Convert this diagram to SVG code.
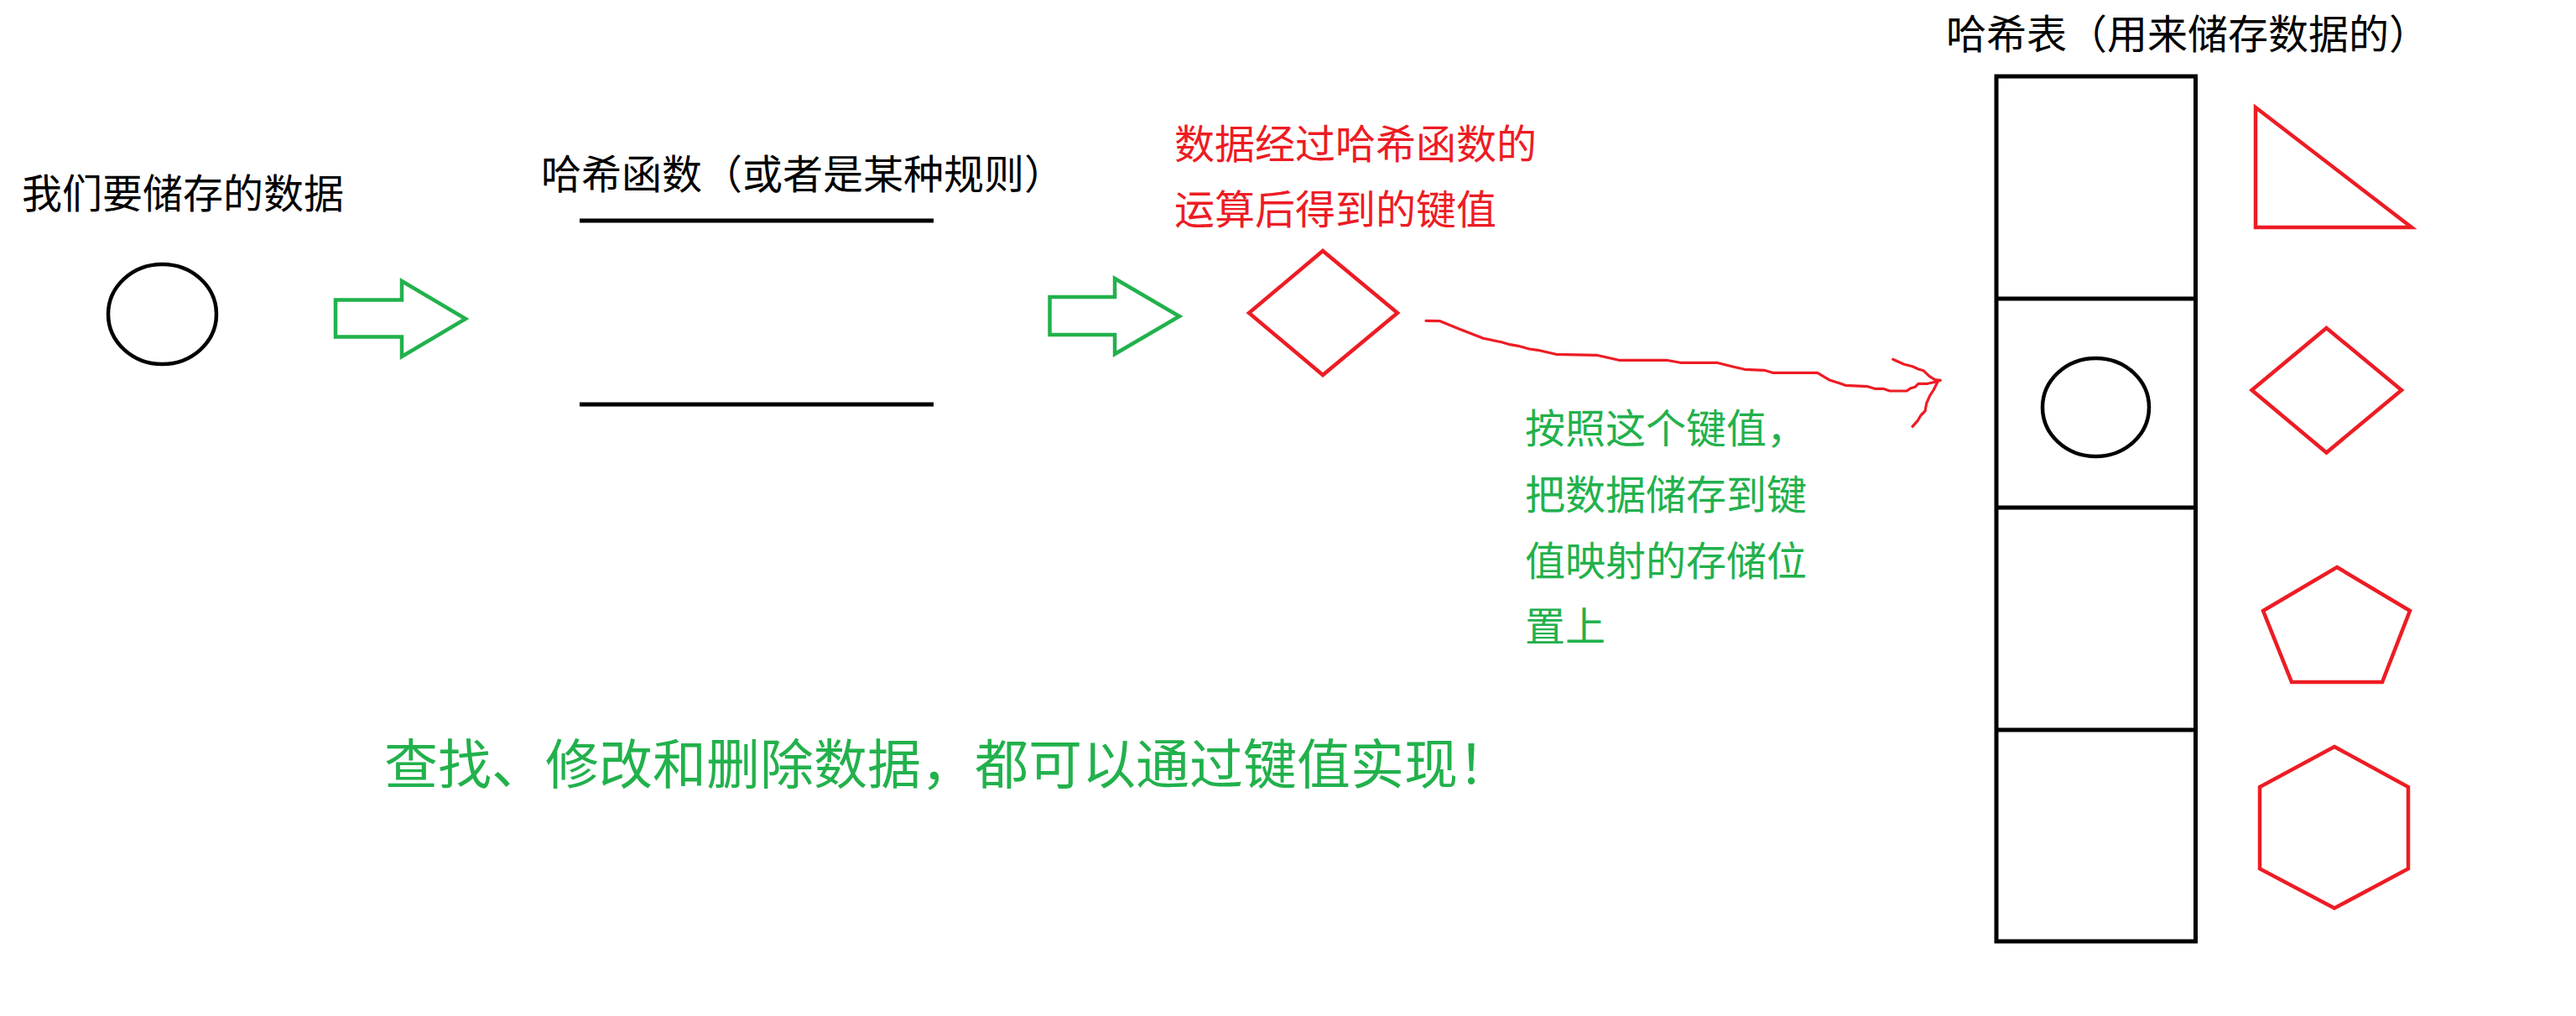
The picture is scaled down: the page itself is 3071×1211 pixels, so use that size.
<svg xmlns="http://www.w3.org/2000/svg" width="3071" height="1211" viewBox="0 0 3071 1211">
<style>
text{font-family:"Noto Sans CJK SC","Noto Sans CJK JP",sans-serif;font-size:48px}
.k{fill:#000}
.r{fill:#ed1c24}
.g{fill:#22b14c}
.big{font-size:64px}
.sk{fill:none;stroke:#000;stroke-width:4.5}
.sr{fill:none;stroke:#ed1c24;stroke-width:4.5;stroke-linejoin:miter}
.sg{fill:none;stroke:#22b14c;stroke-width:4.5;stroke-linejoin:miter}
.wv{fill:none;stroke:#ed1c24;stroke-width:3.2;stroke-linecap:round;stroke-linejoin:round}
.tb{fill:none;stroke:#000;stroke-width:5}
</style>
<rect width="3071" height="1211" fill="#fff"/>
<g id="data">
<text class="k" x="26" y="248" textLength="384">我们要储存的数据</text>
<ellipse class="sk" cx="193.5" cy="374.5" rx="64.5" ry="59.5"/>
</g>
<g id="hash-function">
<text class="k" x="645" y="225">哈希函数（或者是某种规则）</text>
<line x1="691" y1="263" x2="1113" y2="263" stroke="#000" stroke-width="5"/>
<line x1="691" y1="482" x2="1113" y2="482" stroke="#000" stroke-width="5"/>
</g>
<g id="key">
<text class="r" x="1400" y="188.5" textLength="432">数据经过哈希函数的</text>
<text class="r" x="1400" y="266.5" textLength="384">运算后得到的键值</text>
<polygon class="sr" points="1577,299 1666,373 1577,447 1489,373"/>
</g>
<g id="mapping-note">
<text class="g" x="1818" y="528">按照这个键值，</text>
<text class="g" x="1818" y="606.5" textLength="336">把数据储存到键</text>
<text class="g" x="1818" y="685.5" textLength="336">值映射的存储位</text>
<text class="g" x="1818" y="763.5">置上</text>
</g>
<g id="summary">
<text class="g big" x="458" y="934" textLength="1344">查找、修改和删除数据，都可以通过键值实现！</text>
</g>
<g id="hash-table">
<text class="k" x="2320" y="58">哈希表（用来储存数据的）</text>
<rect class="tb" x="2380" y="91" width="237.5" height="1031"/>
<line class="tb" x1="2380" y1="356" x2="2617.5" y2="356"/>
<line class="tb" x1="2380" y1="605" x2="2617.5" y2="605"/>
<line class="tb" x1="2380" y1="870" x2="2619" y2="870"/>
<ellipse class="sk" cx="2498.5" cy="485.5" rx="63.5" ry="58.5"/>
</g>
<g id="other-shapes">
<polygon class="sr" points="2689,128 2875,271 2689,271"/>
<polygon class="sr" points="2773.5,391 2863,465 2773.5,539.5 2684.5,465"/>
<polygon class="sr" points="2786,676 2873,728 2840,813 2732,813 2698,728"/>
<polygon class="sr" points="2783,890 2871,938 2871,1035.5 2783,1082.5 2694,1035.5 2694,938"/>
</g>
<g id="connectors">
<polygon class="sg" points="400,357.5 479,357.5 479,335 555,380 479,425 479,401.5 400,401.5"/>
<polygon class="sg" points="1251.5,354 1329,354 1329,332 1406,377 1329,422 1329,399 1251.5,399"/>
<polyline class="wv" points="1700,382.3 1716.7,382.7 1740,392.3 1768.3,403.3 1790,407.7 1800,410.7 1810,412.3 1823.3,416 1833.3,417.3 1855,422.3 1903.3,423.3 1930,429.3 1986.7,429.3 2003.3,432.3 2046.7,432.3 2066.7,437.3 2080,440.3 2103.3,441.3 2113.3,444.3 2166.7,444.3 2181.7,453.3 2193,456.7 2200,459.3 2226.7,460.7 2235,463.3 2245,463.3 2253,466 2273,466 2278,462.7 2283,461.3 2287,457.3 2298,457.3 2308,455 2313,453.3"/>
<polyline class="wv" points="2256.7,428.3 2270,434.3 2280,436.7 2287,440 2293,441.7 2300,448.3 2306.7,452.7 2313,453.3"/>
<polyline class="wv" points="2310,455 2305,465 2300.7,471.7 2296.7,480.7 2295,490 2290,495 2286,501.7 2280,508.3"/>
</g>
</svg>
